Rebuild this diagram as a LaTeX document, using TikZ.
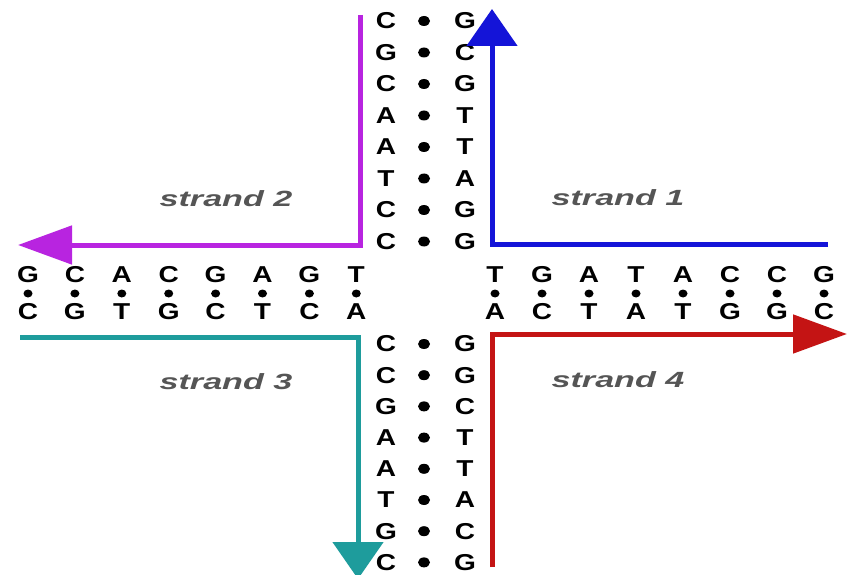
\documentclass[tikz,border=0pt]{standalone}
\usepackage{fontspec}
\usepackage{graphicx}
\setmainfont{Liberation Sans}
\usetikzlibrary{arrows.meta,shapes.geometric}
\definecolor{spurple}{HTML}{B824E0}
\definecolor{sblue}{HTML}{1414D8}
\definecolor{steal}{HTML}{1E9C9C}
\definecolor{sred}{HTML}{C41414}
\definecolor{sgray}{HTML}{555555}
\newcommand{\wbase}[1]{\scalebox{1.22}[1]{#1}}
\newcommand{\wlabel}[1]{\scalebox{1.55}[1]{#1}}
\begin{document}
\begin{tikzpicture}[x=1pt,y=-1pt,
  base/.style={inner sep=0pt, font=\fontsize{23}{23}\selectfont\bfseries},
  bond/.style={ellipse, fill=black, inner sep=0pt, minimum width=12pt, minimum height=10pt},
  hbond/.style={ellipse, fill=black, inner sep=0pt, minimum width=9pt, minimum height=8pt},
  slabel/.style={inner sep=0pt, text=sgray, font=\fontsize{22}{22}\selectfont\bfseries\itshape},
  strand/.style={line width=5pt, line join=miter},
  harrow/.style={strand, -{Triangle[length=54pt,width=38pt]}},
  varrow/.style={strand, -{Triangle[length=37pt,width=50pt]}}
]
\useasboundingbox (0,0) rectangle (852,575);
\fill[white] (0,0) rectangle (852,575);

% vertical top column
\foreach \l/\r [count=\i] in {C/G,G/C,C/G,A/T,A/T,T/A,C/G,C/G}{
  \pgfmathsetmacro{\yy}{21+31.5*(\i-1)}
  \node[base] (tl\i) at (386,\yy) {\wbase{\l}};
  \node[bond] (td\i) at (424,\yy) {};
  \node[base] (tr\i) at (465,\yy) {\wbase{\r}};
}
% vertical bottom column
\foreach \l/\r [count=\i] in {C/G,C/G,G/C,A/T,A/T,T/A,G/C,C/G}{
  \pgfmathsetmacro{\yy}{344+31.2*(\i-1)}
  \node[base] (bl\i) at (386,\yy) {\wbase{\l}};
  \node[bond] (bd\i) at (424,\yy) {};
  \node[base] (br\i) at (465,\yy) {\wbase{\r}};
}
% horizontal left
\foreach \u/\d [count=\i] in {G/C,C/G,A/T,C/G,G/C,A/T,G/C,T/A}{
  \pgfmathsetmacro{\xx}{28+46.9*(\i-1)}
  \node[base] (lu\i) at (\xx,275) {\wbase{\u}};
  \node[hbond] (ld\i) at (\xx,293.5) {};
  \node[base] (lb\i) at (\xx,312) {\wbase{\d}};
}
% horizontal right
\foreach \u/\d [count=\i] in {T/A,G/C,A/T,T/A,A/T,C/G,C/G,G/C}{
  \pgfmathsetmacro{\xx}{495+47*(\i-1)}
  \node[base] (ru\i) at (\xx,275) {\wbase{\u}};
  \node[hbond] (rd\i) at (\xx,293.5) {};
  \node[base] (rb\i) at (\xx,312) {\wbase{\d}};
}

% strand labels
\node[slabel] (s2) at (226,199) {\wlabel{strand 2}};
\node[slabel] (s1) at (618,198) {\wlabel{strand 1}};
\node[slabel] (s3) at (226,382) {\wlabel{strand 3}};
\node[slabel] (s4) at (618,380) {\wlabel{strand 4}};

% strand coordinates
\coordinate (p0) at (360,15);
\coordinate (p1) at (360,245);
\coordinate (p2) at (18,245);
\coordinate (b0) at (828,244);
\coordinate (b1) at (492,244);
\coordinate (b2) at (492,9);
\coordinate (t0) at (20,337);
\coordinate (t1) at (358,337);
\coordinate (t2) at (358,579);
\coordinate (r0) at (492,567);
\coordinate (r1) at (492,334);
\coordinate (r2) at (847,334);

\draw[harrow, spurple] (p0) -- (p1) -- (p2);
\draw[varrow, sblue] (b0) -- (b1) -- (b2);
\draw[varrow, steal] (t0) -- (t1) -- (t2);
\draw[harrow, sred] (r0) -- (r1) -- (r2);
\end{tikzpicture}
\end{document}
